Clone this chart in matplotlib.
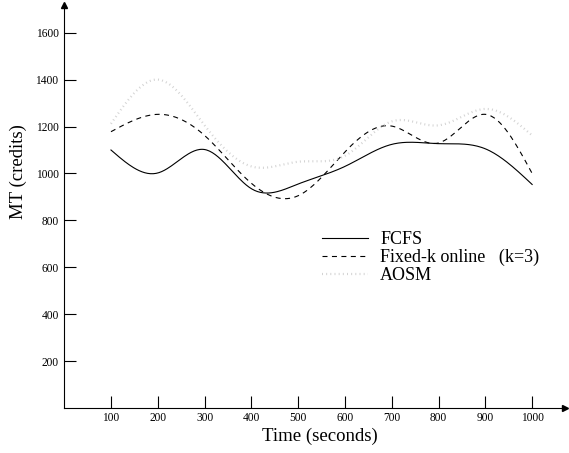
import numpy as np
import matplotlib
matplotlib.use("Agg")
import matplotlib.pyplot as plt

plt.rcParams['font.family'] = ['Liberation Serif', 'DejaVu Serif']
plt.rcParams['lines.scale_dashes'] = False

# values
times = [100, 200, 300, 400, 500, 600, 700, 800, 900, 1000]
fcfs = [1100, 1002, 1102, 935, 955, 1030, 1124, 1127, 1105, 953]
fixed_k = [1178, 1252, 1162, 958, 905, 1092, 1202, 1130, 1252, 1000]
aosm = [1212, 1400, 1205, 1030, 1050, 1075, 1222, 1205, 1275, 1162]

x_ticks = [100, 200, 300, 400, 500, 600, 700, 800, 900, 1000]
y_ticks = [200, 400, 600, 800, 1000, 1200, 1400, 1600]


def smooth(x, y, n=300):
    """natural cubic spline through the points, for drawing only"""
    x = np.asarray(x, float)
    y = np.asarray(y, float)
    k = len(x)
    h = np.diff(x)
    A = np.zeros((k, k))
    b = np.zeros(k)
    A[0, 0] = A[-1, -1] = 1.0
    for i in range(1, k - 1):
        A[i, i - 1] = h[i - 1]
        A[i, i] = 2 * (h[i - 1] + h[i])
        A[i, i + 1] = h[i]
        b[i] = 6 * ((y[i + 1] - y[i]) / h[i] - (y[i] - y[i - 1]) / h[i - 1])
    M = np.linalg.solve(A, b)
    xs = np.linspace(x[0], x[-1], n)
    idx = np.clip(np.searchsorted(x, xs) - 1, 0, k - 2)
    x0, x1 = x[idx], x[idx + 1]
    hh = x1 - x0
    t0, t1 = x1 - xs, xs - x0
    ys = (M[idx] * t0 ** 3 / (6 * hh) + M[idx + 1] * t1 ** 3 / (6 * hh)
          + (y[idx] / hh - M[idx] * hh / 6) * t0
          + (y[idx + 1] / hh - M[idx + 1] * hh / 6) * t1)
    return xs, ys


fig = plt.figure(figsize=(5.69, 4.53), dpi=100)
ax = fig.add_axes([0.1128, 0.0993, 0.880, 0.8896])

xs, ys = smooth(times, fcfs)
ax.plot(xs, ys, '-', color='black', linewidth=0.8, label='FCFS')
xs, ys = smooth(times, fixed_k)
ax.plot(xs, ys, color='black', linewidth=0.8, dashes=(3.6, 3.2),
        label='Fixed-k online   (k=3)')
xs, ys = smooth(times, aosm)
ax.plot(xs, ys, color='#d2d2d2', linewidth=1.6, dashes=(0.7, 2.3),
        label='AOSM')

ax.set_xlim(0, 1070)
ax.set_ylim(0, 1718)
ax.set_xticks(x_ticks)
ax.set_yticks(y_ticks)
ax.tick_params(direction='in', length=8.5, width=0.8, labelsize=8.3, pad=4)
ax.tick_params(axis='x', pad=3)
for side in ['top', 'right']:
    ax.spines[side].set_visible(False)
for side in ['left', 'bottom']:
    ax.spines[side].set_linewidth(0.8)

# arrow heads at the ends of the axes
ax.plot(1, 0, '>', color='black', markersize=5, transform=ax.transAxes, clip_on=False)
ax.plot(0, 1, '^', color='black', markersize=5, transform=ax.transAxes, clip_on=False)

fig.text(320 / 569, 1 - 436 / 453, 'Time (seconds)', ha='center', va='center', fontsize=13.5)
fig.text(18 / 569, 1 - 172 / 453, 'MT (credits)', ha='center', va='center',
         rotation=90, fontsize=13.5)

ax.legend(loc='upper left', bbox_to_anchor=(322 / 569, 1 - 231 / 453),
          bbox_transform=fig.transFigure, frameon=False, fontsize=13,
          handlelength=2.55, handletextpad=0.67, labelspacing=0.05,
          borderpad=0, borderaxespad=0)

fig.savefig('out.png', dpi=100)
